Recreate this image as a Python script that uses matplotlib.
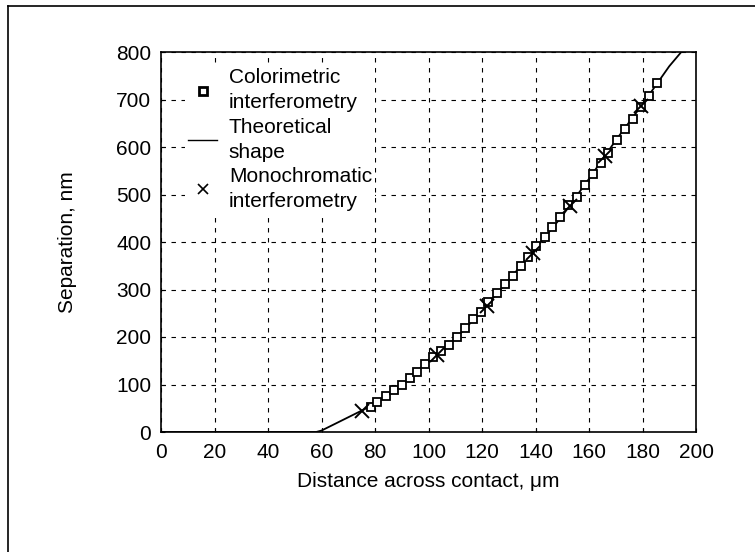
import numpy as np
import matplotlib.pyplot as plt
from matplotlib.lines import Line2D

plt.rcParams['font.family'] = ['Liberation Sans', 'DejaVu Sans']

# colorimetric interferometry points (distance in um, separation in nm)
colori_x = [78.4, 80.9, 84.1, 87.1, 90.0, 93.1, 95.8, 98.7, 101.8, 104.8, 107.8,
            110.8, 113.6, 116.5, 119.5, 122.4, 125.5, 128.6, 131.7, 134.5, 137.3,
            140.2, 143.6, 146.0, 149.2, 152.3, 155.4, 158.5, 161.6, 164.4, 167.2,
            170.3, 173.5, 176.3, 179.3, 182.5, 185.5]
colori_y = [53, 64, 76, 88, 99, 113, 127, 143, 157, 170, 183,
            201, 220, 237, 253, 274, 292, 312, 328, 349, 369,
            392, 411, 431, 453, 478, 495, 520, 543, 567, 587,
            615, 637, 660, 685, 707, 735]

# monochromatic interferometry points
mono_x = [75, 103, 122, 139, 153, 166, 179.5]
mono_y = [44, 162, 265, 376, 475, 582, 686]

# theoretical gap profile
theory_x = [0, 58, 60, 65, 70, 75, 80, 90, 100, 110, 120, 130, 140, 150,
            160, 170, 180, 190, 194.5, 197]
theory_y = [0, 0, 3, 17, 31, 45, 59, 99, 150, 196, 255, 320, 386, 455,
            533, 614, 690, 770, 800, 820]

x_ticks = np.arange(0, 201, 20)
y_ticks = np.arange(0, 801, 100)

FS = 15

fig = plt.figure(figsize=(7.55, 5.52), dpi=100)
ax = fig.add_axes([161/755, 1 - 432/552, 535/755, 380/552])

ax.plot(theory_x, theory_y, color='black', lw=1.3, zorder=3)
ax.plot(colori_x, colori_y, ls='none', marker='s', ms=6, mfc='white',
        mec='black', mew=1.3, zorder=4)
ax.plot(mono_x, mono_y, ls='none', marker='x', ms=10, mec='black',
        mew=1.4, zorder=5)

ax.set_xlim(0, 200)
ax.set_ylim(0, 800)
ax.set_xticks(x_ticks)
ax.set_yticks(y_ticks)
ax.tick_params(labelsize=FS, direction='in', length=3, width=0.8, pad=7)
ax.tick_params(axis='x', pad=8)
ax.grid(True, color='black', ls=(0, (4, 5)), lw=0.8)
for s in ax.spines.values():
    s.set_linewidth(1.2)

ax.set_xlabel('Distance across contact, μm', fontsize=FS, labelpad=7)
ax.set_ylabel('Separation, nm', fontsize=FS, labelpad=28)

handles = [
    Line2D([], [], ls='none', marker='s', ms=6, mfc='white', mec='black', mew=2),
    Line2D([], [], color='black', lw=1.0),
    Line2D([], [], ls='none', marker='x', ms=7, mec='black', mew=1.2),
]
labels = ['Colorimetric\ninterferometry', 'Theoretical\nshape',
          'Monochromatic\ninterferometry']
leg = ax.legend(handles, labels, loc='upper left', bbox_to_anchor=(0.045, 0.965),
                fontsize=FS, frameon=True, facecolor='white', edgecolor='none',
                framealpha=1, fancybox=False, handlelength=1.4,
                handletextpad=0.55, labelspacing=0.25, borderaxespad=0,
                borderpad=0.15)
for t in leg.get_texts():
    t.set_linespacing(1.4)
leg.set_zorder(6)

# frame around the figure
fig.add_artist(Line2D([8/755, 8/755], [0, 1 - 6/552], color='black', lw=1.2))
fig.add_artist(Line2D([8/755, 1], [1 - 6/552, 1 - 6/552], color='black', lw=1.2))

fig.savefig('out.png', dpi=100)
